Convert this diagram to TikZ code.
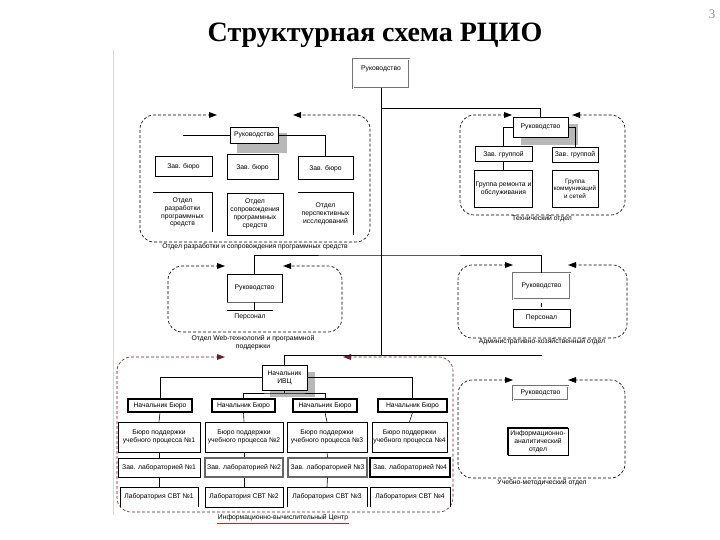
\documentclass[tikz,border=0pt]{standalone}
\usepackage{fontspec}
\setmainfont{Liberation Serif}
\setsansfont{Liberation Sans}
\usetikzlibrary{arrows.meta}
\definecolor{ivcred}{RGB}{110,30,40}
\definecolor{ulred}{RGB}{200,40,40}
% #1 left-arrow tip x, #2 top y, #3 left x, #4 bottom y, #5 right x, #6 right-arrow tip x, #7 colour
\newcommand\mygroup[7]{%
  \draw[grp,#7] ({#1-6},#2) -- (#3,#2) -- (#3,#4) -- (#5,#4) -- (#5,#2) -- ({#6+6},#2);
  \path[fill=#7] (#1,#2) -- ({#1-8},{#2-3}) -- ({#1-8},{#2+3}) -- cycle;
  \path[fill=#7] (#6,#2) -- ({#6+8},{#2-3}) -- ({#6+8},{#2+3}) -- cycle;
}
\begin{document}
\begin{tikzpicture}[x=1pt,y=-1pt,
  every node/.style={font=\sffamily\fontsize{6.8}{7.8}\selectfont, inner sep=1pt, align=center},
  bx/.style={draw, line width=0.6pt, fill=white},
  bxmed/.style={draw, line width=1pt, fill=white},
  bxthick/.style={draw, line width=1.4pt, fill=white},
  bxdbl/.style={draw=black!55, double=white, double distance=0.7pt, line width=0.7pt, fill=white},
  bxopen/.style={fill=white},
  conn/.style={line width=0.6pt},
  grp/.style={dash pattern=on 3pt off 2pt, line width=0.6pt, rounded corners=14pt},
  shadowbox/.style={fill=black!28, draw=none},
  captxt/.style={fill=none}
]
\path[use as bounding box] (0,0) rectangle (720,540);
\fill[white] (0,0) rectangle (720,540);

% faint frame line
\draw[black!15, line width=0.5pt] (113,50) -- (113,515);

% title and page number
\node[font=\rmfamily\bfseries\fontsize{28}{31}\selectfont] (title) at (375,35) {Структурная схема РЦИО};
\node[font=\rmfamily\fontsize{13}{15}\selectfont, text=black!45] (pnum) at (712,14) {3};

% ---------- group borders ----------
\mygroup{217}{115}{140}{242}{370}{293}{black}
\mygroup{512}{115}{460}{215}{625}{572}{black}
\mygroup{225}{266}{168}{332}{342}{283}{black}
\mygroup{513}{265}{458}{338}{627}{568}{black}
\mygroup{225}{357}{117}{512}{453}{343}{ivcred}
\mygroup{513}{380}{458}{478}{625}{568}{black}

% ---------- root ----------
\node[bxdbl, minimum width=56, minimum height=29, text depth=11pt] (root) at (381,73.5) {Руководство};

% ---------- upper left group ----------
\fill[shadowbox] (237,133) rectangle (287,153);
\node[bx, minimum width=48, minimum height=16] (ulRuk) at (254,135) {Руководство};
\node[bxmed, minimum width=57, minimum height=20] (ulZ1) at (183.5,167) {Зав. бюро};
\node[bxmed, minimum width=51, minimum height=25] (ulZ2) at (252.5,167.5) {Зав. бюро};
\node[bxmed, minimum width=55, minimum height=23] (ulZ3) at (325.5,168.5) {Зав. бюро};
\node[bxopen, minimum width=59, minimum height=39] (ulO1) at (182.5,212.5) {Отдел\\разработки\\программных\\средств};
\node[bx, minimum width=56, minimum height=42] (ulO2) at (255,214) {Отдел\\сопровождения\\программных\\средств};
\node[bxopen, minimum width=55, minimum height=42] (ulO3) at (325.5,214) {Отдел\\перспективных\\исследований};
\draw[conn] (ulO1.north west) -- (ulO1.north east) -- (ulO1.south east);
\draw[conn] (ulO3.north west) -- (ulO3.north east) -- (ulO3.south east);
\draw[conn] (ulRuk.west) -- ++(-47,0) coordinate (ulEnd);
\draw[conn] (ulRuk.east) -| (ulZ3.north);
\node[captxt] (ulCap) at (255,246.5) {Отдел разработки и сопровождения программных средств};

% ---------- upper right group ----------
\fill[shadowbox] (521,124) rectangle (578,145);
\node[bx, minimum width=55, minimum height=20] (trRuk) at (540.5,127) {Руководство};
\node[bxmed, minimum width=57, minimum height=15] (trZ1) at (503.5,154.5) {Зав. группой};
\node[bxmed, minimum width=46, minimum height=15] (trZ2) at (575,155) {Зав. группой};
\node[bx, minimum width=57, minimum height=37] (trG1) at (503.5,188.5) {Группа ремонта и\\обслуживания};
\node[bx, minimum width=46, minimum height=37, font=\sffamily\fontsize{6.3}{7.6}\selectfont] (trG2) at (575,188.5) {Группа\\коммуникаций\\и сетей};
\draw[conn] (trRuk.west) -| (trZ1.north);
\draw[conn] (trRuk.east) -| (trZ2.north);
\draw[conn] (trZ1.south) -- (trG1.north);
\node[captxt] (trCap) at (542,218.5) {Технический отдел};

% ---------- web group ----------
\node[bx, minimum width=55, minimum height=28] (wRuk) at (254.5,288) {Руководство};
\draw[line width=1.6pt, black!60] (wRuk.south west) -- (wRuk.south east);
\node[bxopen, minimum width=45, minimum height=13] (wPers) at (250,316.5) {Персонал};
\draw[conn] (wPers.north west) -- (wPers.north east);
\draw[conn] (wRuk.south) -- (wRuk.south |- wPers.north);
\node[captxt] (wCap) at (253,342.5) {Отдел Web-технологий и программной\\поддержки};

% ---------- admin group ----------
\node[bxdbl, minimum width=57, minimum height=26] (aRuk) at (541.5,286) {Руководство};
\node[bx, minimum width=57, minimum height=18] (aPers) at (541.5,318) {Персонал};
\draw[conn] ([yshift=-4pt]aRuk.south) -- ([yshift=2pt]aPers.north);
\node[captxt] (aCap) at (542,342) {Административно-хозяйственный отдел};

% ---------- IVC group ----------
\fill[shadowbox] (270,372) rectangle (315,397);
\node[bx, minimum width=45, minimum height=25] (nach) at (284.5,377.5) {Начальник\\ИВЦ};
\node[bxthick, minimum width=64, minimum height=13] (nb1) at (160,405.5) {Начальник Бюро};
\node[bxthick, minimum width=63, minimum height=13] (nb2) at (243.5,405.5) {Начальник Бюро};
\node[bxthick, minimum width=64, minimum height=13] (nb3) at (325,405.5) {Начальник Бюро};
\node[bxthick, minimum width=69, minimum height=13] (nb4) at (412.5,405.5) {Начальник Бюро};
\node[bx, minimum width=82, minimum height=30] (bp1) at (159,437) {Бюро поддержки\\учебного процесса №1};
\node[bx, minimum width=78, minimum height=30] (bp2) at (244,437) {Бюро поддержки\\учебного процесса №2};
\node[bx, minimum width=80, minimum height=30] (bp3) at (327,437) {Бюро поддержки\\учебного процесса №3};
\node[bx, minimum width=75, minimum height=30] (bp4) at (409.5,437) {Бюро поддержки\\учебного процесса №4};
\node[bxmed, minimum width=82, minimum height=19] (zl1) at (159,467.5) {Зав. лабораторией №1};
\node[bxmed, draw=black!60, line width=1.3pt, minimum width=78, minimum height=19] (zl2) at (244,467.5) {Зав. лабораторией №2};
\node[bxmed, draw=black!60, line width=1.3pt, minimum width=79, minimum height=19] (zl3) at (327.5,467.5) {Зав. лабораторией №3};
\node[bxthick, minimum width=80, minimum height=19] (zl4) at (410,467.5) {Зав. лабораторией №4};
\node[bxopen, minimum width=78, minimum height=20] (lb1) at (159,497) {Лаборатория СВТ №1};
\node[bx, minimum width=78, minimum height=20] (lb2) at (244,497) {Лаборатория СВТ №2};
\node[bxopen, minimum width=80, minimum height=20] (lb3) at (327,497) {Лаборатория СВТ №3};
\node[bxopen, minimum width=80, minimum height=20] (lb4) at (410,497) {Лаборатория СВТ №4};
\foreach \n in {lb1,lb3,lb4}{
  \draw[conn] (\n.south west) -- (\n.north west) -- (\n.north east) -- (\n.south east);
}
\draw[conn] (nach.west) -| (nb1.north);
\draw[conn] (nach.east) -| (nb4.north);
\coordinate (nbus) at (284.5,393);
\draw[conn] (nach.south) -- (nbus);
\draw[conn] (nb2.north) |- (nbus) -| (nb3.north);
\foreach \i in {1,2,3,4}{
  \draw[conn] (nb\i.south) -- (bp\i.north);
}
\foreach \i in {1,2,3}{
  \draw[conn] (bp\i.south) -- (zl\i.north);
  \draw[conn] (zl\i.south) -- (lb\i.north);
}
\node[captxt] (ivcCap) at (283,518) {Информационно-вычислительный Центр};
\draw[ulred, line width=0.6pt] ([yshift=-1pt]ivcCap.south west) -- ([yshift=-1pt]ivcCap.south east);

% ---------- UM group ----------
\node[bxdbl, minimum width=55, minimum height=14] (umRuk) at (540.5,393) {Руководство};
\node[bx, minimum width=60, minimum height=27] (umIA) at (538,441.5) {Информационно-\\аналитический\\отдел};
\draw[line width=1.2pt] (umIA.south west) -- (umIA.north west) -- (umIA.north east);
\node[captxt] (umCap) at (542,483) {Учебно-методический отдел};

% ---------- trunk and feeders ----------
\coordinate (tr1) at (381,108);
\coordinate (tr2) at (381,255);
\coordinate (tr3) at (381,355);
\coordinate (ivcEnd) at (542,355);
\draw[conn] (root.south) -- (tr3);
\draw[conn] (tr1) -| (trRuk.north);
\draw[conn] (wRuk.north) |- (tr2) -| (aRuk.north);
\draw[conn] (nach.north) |- (ivcEnd);
\end{tikzpicture}
\end{document}
